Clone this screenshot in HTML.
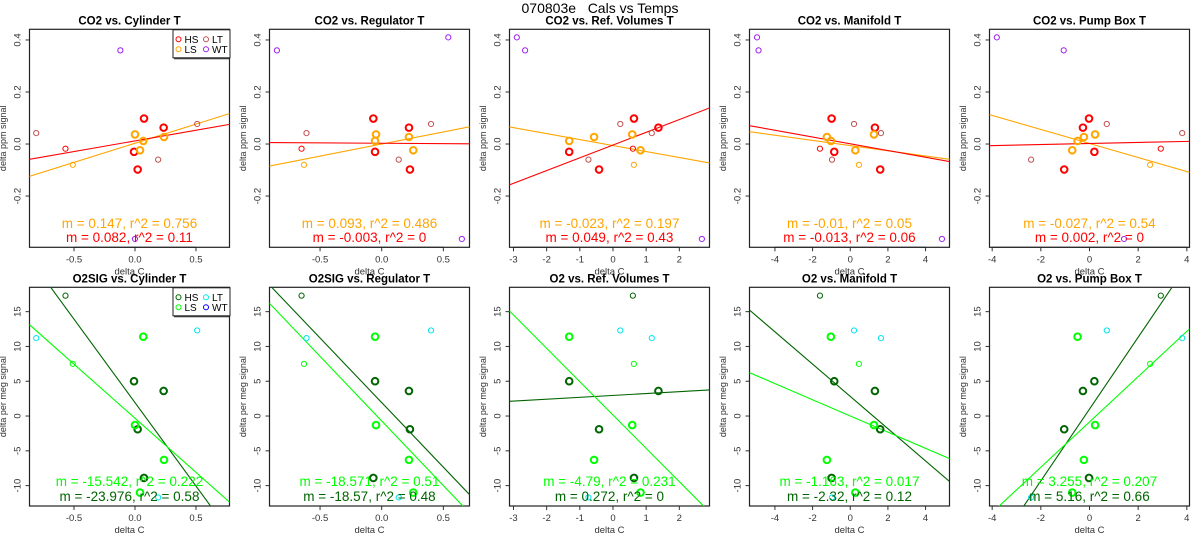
<!DOCTYPE html>
<html><head><meta charset="utf-8"><style>
html,body{margin:0;padding:0;background:#fff;}
svg{display:block;font-family:"Liberation Sans",Arial,sans-serif;}
</style></head><body>
<svg id="chart" width="1200" height="550" viewBox="0 0 1200 550">
<text x="600" y="13" text-anchor="middle" font-size="14" fill="#000" style="white-space:pre" xml:space="preserve">070803e   Cals vs Temps</text>
</svg>
<script>
// ---- data ----
const panelTitlesTop = ["CO2 vs. Cylinder T","CO2 vs. Regulator T","CO2 vs. Ref. Volumes T","CO2 vs. Manifold T","CO2 vs. Pump Box T"];
const panelTitlesBot = ["O2SIG vs. Cylinder T","O2SIG vs. Regulator T","O2 vs. Ref. Volumes T","O2 vs. Manifold T","O2 vs. Pump Box T"];
const co2Y = [0.098,0.063,-0.03,-0.098, 0.037,0.012,-0.024,0.027, -0.08, 0.042,-0.018,-0.06,0.077, 0.36,0.41,-0.365];
const o2Y = [-8.9,3.6,5,-1.9, -1.3,11.4,-11,-6.3, 7.5, 11.2,17.3,-11.7,12.3, null,null,null];
const groups = ["HS","HS","HS","HS","LS","LS","LS","LS","LSt","LT","HSt","LT","LT","WT","WT","WT"];
const cylX = [0.074,0.235,-0.008,0.022, 0,0.068,0.041,0.238, -0.51, -0.81,-0.57,0.19,0.51, -0.12,null,0];
const regX = [-0.068,0.221,-0.054,0.229, -0.046,-0.054,0.256,0.221, -0.63, -0.61,-0.65,0.138,0.40, -0.85,0.54,0.65];
const refX = [0.633,1.37,-1.32,-0.42, 0.58,-1.32,0.83,-0.57, 0.63, 1.17,0.60,-0.74,0.22, -2.65,-2.9,2.68];
const manX = [-0.99,1.31,-0.85,1.59, 1.26,-1.03,0.27,-1.24, 0.46, 1.63,-1.61,-0.97,0.2, -4.87,-4.95,4.87];
const pumpX = [-0.02,-0.27,0.2,-1.04, 0.23,-0.49,-0.71,-0.23, 2.49, 3.81,2.93,-2.4,0.71, -1.06,-3.81,1.42];
const xRanges = [[-0.865,0.775],[-0.91,0.712],[-3.12,2.91],[-5.35,5.27],[-4.11,4.11]];
const xTicks = [[-0.5,0,0.5],[-0.5,0,0.5],[-3,-2,-1,0,1,2],[-4,-2,0,2,4],[-4,-2,0,2,4]];
const xTickLabels = [["-0.5","0.0","0.5"],["-0.5","0.0","0.5"],["-3","-2","-1","0","1","2"],["-4","-2","0","2","4"],["-4","-2","0","2","4"]];
const yTicksTop = [-0.2,0,0.2,0.4];
const yTickLabelsTop = ["-0.2","0.0","0.2","0.4"];
const yTicksBot = [-10,-5,0,5,10,15];
const yTickLabelsBot = ["-10","-5","0","5","10","15"];
const co2SlopeHS = [0.082,-0.003,0.049,-0.013,0.002];
const co2IntHS = [0.012,0.003,-0.004,0.001,0.002];
const co2SlopeLS = [0.147,0.093,-0.023,-0.01,-0.027];
const co2IntLS = [0.003,0.0,-0.006,-0.006,0.002];
const o2SlopeHS = [-23.976,-18.57,0.272,-2.32,5.16];
const o2IntHS = [1.93,1.93,2.96,2.82,1.0];
const o2SlopeLS = [-15.542,-18.571,-4.79,-1.163,3.255];
const o2IntLS = [-0.32,-0.71,0.15,0.01,-0.85];
const co2TextLS = ["m = 0.147, r^2 = 0.756","m = 0.093, r^2 = 0.486","m = -0.023, r^2 = 0.197","m = -0.01, r^2 = 0.05","m = -0.027, r^2 = 0.54"];
const co2TextHS = ["m = 0.082, r^2 = 0.11","m = -0.003, r^2 = 0","m = 0.049, r^2 = 0.43","m = -0.013, r^2 = 0.06","m = 0.002, r^2 = 0"];
const o2TextLS = ["m = -15.542, r^2 = 0.222","m = -18.571, r^2 = 0.51","m = -4.79, r^2 = 0.231","m = -1.163, r^2 = 0.017","m = 3.255, r^2 = 0.207"];
const o2TextHS = ["m = -23.976, r^2 = 0.58","m = -18.57, r^2 = 0.48","m = 0.272, r^2 = 0","m = -2.32, r^2 = 0.12","m = 5.16, r^2 = 0.66"];
const yRangeTop = [-0.397,0.441];
const yRangeBot = [-12.93,18.5];

const svg = document.getElementById('chart');
const NS = 'http://www.w3.org/2000/svg';
function mk(tag, attrs, parent){ const e=document.createElementNS(NS,tag); for(const k in attrs) e.setAttribute(k,attrs[k]); (parent||svg).appendChild(e); return e; }
const xsAll = [cylX,regX,refX,manX,pumpX];
const colTop = {HS:"#ff0000",LS:"#ffa500",LSt:"#ffa500",HSt:"#ff0000",LT:"#c05050",WT:"#a020f0"};
const colBot = {HS:"#006400",LS:"#00ff00",LSt:"#00ff00",HSt:"#006400",LT:"#00e5ee",WT:"#0000ff"};

function drawPanel(col,row){
  const ox = 240*col;
  const L = ox+29.5, R = ox+229.5;
  const T = row===0 ? 29.3 : 287.3, B = row===0 ? 247.3 : 506;
  const xr = xRanges[col];
  const yr = row===0 ? yRangeTop : yRangeBot;
  const sx = v => L + (v-xr[0])/(xr[1]-xr[0])*(R-L);
  const sy = v => B - (v-yr[0])/(yr[1]-yr[0])*(B-T);
  const g = mk('g',{});
  
  
  const cid = 'clip'+row+col;
  const cp = mk('clipPath',{id:cid},g); mk('rect',{x:L,y:T,width:R-L,height:B-T},cp);
  const t = mk('text',{x:(L+R)/2,y:T-5,'text-anchor':'middle','font-size':'11.5','font-weight':'bold',fill:'#000'},g);
  t.textContent = row===0 ? panelTitlesTop[col] : panelTitlesBot[col];
  
  
  xTicks[col].forEach((v,i)=>{
    const x=sx(v);
    mk('line',{x1:x,x2:x,y1:B,y2:B+4,stroke:'#333','stroke-width':1},g);
    const tl = mk('text',{x:x,y:B+15,'text-anchor':'middle','font-size':'9.5',fill:'#333'},g);
    tl.textContent = xTickLabels[col][i];
    
    
  });
  mk('line',{x1:sx(xTicks[col][0]),x2:sx(xTicks[col][xTicks[col].length-1]),y1:B,y2:B,stroke:'#333'},g);
  const xl = mk('text',{x:(L+R)/2,y:B+27,'text-anchor':'middle','font-size':'9.5',fill:'#333'},g);
  xl.textContent='delta C';
  
  
  const yt = row===0?yTicksTop:yTicksBot, ytl = row===0?yTickLabelsTop:yTickLabelsBot;
  yt.forEach((v,i)=>{
    const y=sy(v);
    mk('line',{x1:L-4,x2:L,y1:y,y2:y,stroke:'#333'},g);
    const tl = mk('text',{x:0,y:0,'text-anchor':'middle','font-size':'9.5',fill:'#333',transform:`translate(${L-9},${y}) rotate(-90)`},g);
    tl.textContent = ytl[i];
    
    
  });
  mk('line',{x1:L,x2:L,y1:sy(yt[0]),y2:sy(yt[yt.length-1]),stroke:'#333'},g);
  const yl = mk('text',{x:0,y:0,'text-anchor':'middle','font-size':'9',fill:'#333',transform:`translate(${ox+6},${(T+B)/2}) rotate(-90)`},g);
  yl.textContent = row===0 ? 'delta ppm signal' : 'delta per meg signal';
  
  
  mk('rect',{x:L,y:T,width:R-L,height:B-T,fill:'none',stroke:'#222','stroke-width':1.2},g);
  const cols = row===0?colTop:colBot;
  const fits = row===0 ? [[co2SlopeLS[col],co2IntLS[col],cols.LS,'fit-line-ls'],[co2SlopeHS[col],co2IntHS[col],cols.HS,'fit-line-hs']]
                       : [[o2SlopeHS[col],o2IntHS[col],cols.HS,'fit-line-hs'],[o2SlopeLS[col],o2IntLS[col],cols.LS,'fit-line-ls']];
  fits.forEach(f=>{
    const ln = mk('line',{x1:sx(xr[0]),y1:sy(f[1]+f[0]*xr[0]),x2:sx(xr[1]),y2:sy(f[1]+f[0]*xr[1]),stroke:f[2],'stroke-width':1.1,'clip-path':`url(#${cid})`},g);
    
    
  });
  const ys = row===0?co2Y:o2Y, xs = xsAll[col];
  xs.forEach((xv,i)=>{
    const yv = ys[i];
    if(xv===null || yv===null) return;
    const gr = groups[i];
    const thick = (gr==='HS'||gr==='LS');
    const c = mk('circle',{cx:sx(xv),cy:sy(yv),r:thick?3.3:2.6,fill:'none',stroke:cols[gr],'stroke-width':thick?2:1,'clip-path':`url(#${cid})`},g);
    
    
  });
  const tx=(L+R)/2;
  const s1 = mk('text',{x:tx,y:row===0?228:486,'text-anchor':'middle','font-size':'13.5',fill:cols.LS},g);
  s1.textContent = row===0?co2TextLS[col]:o2TextLS[col];
  
  
  const s2 = mk('text',{x:tx,y:row===0?242:501,'text-anchor':'middle','font-size':'13.5',fill:cols.HS},g);
  s2.textContent = row===0?co2TextHS[col]:o2TextHS[col];
  
  
  if(col===0){
    const lg = mk('g',{},g);
    
    
    mk('rect',{x:173,y:T+0.5,width:57,height:28,fill:'#fff',stroke:'#222','stroke-width':1},lg);
    mk('line',{x1:174,y1:T+29.5,x2:230,y2:T+29.5,stroke:'#222','stroke-width':1},lg);
    const items=[['HS',178.5,T+10],['LT',206,T+10],['LS',178.5,T+20],['WT',206,T+20]];
    items.forEach(it=>{
      const e = mk('g',{},lg);
      
      
      mk('circle',{cx:it[1],cy:it[2],r:2.5,fill:'none',stroke:cols[it[0]],'stroke-width':1},e);
      const tt = mk('text',{x:it[1]+6,y:it[2]+3.5,'font-size':'10',fill:'#000'},e);
      tt.textContent=it[0];
    });
  }
}
for(let r=0;r<2;r++) for(let c=0;c<5;c++) drawPanel(c,r);
</script>
</body></html>
